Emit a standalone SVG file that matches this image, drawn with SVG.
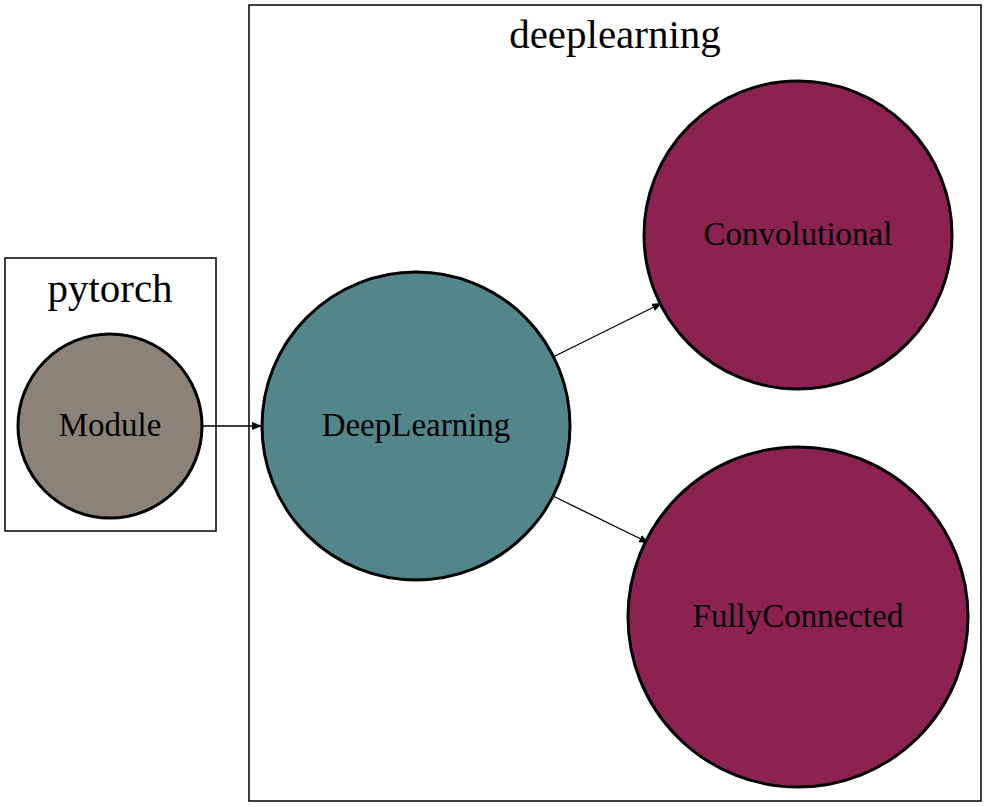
<svg xmlns="http://www.w3.org/2000/svg" width="988" height="807" viewBox="0 0 988 807">
<style>
.cluster{fill:#ffffff;stroke:#000000;stroke-width:1.5}
.node{stroke:#000000;stroke-width:3}
.ntext{font-family:"Liberation Serif",serif;font-size:33px;text-anchor:middle;fill:#000000}
.ctext{font-family:"Liberation Serif",serif;font-size:41px;text-anchor:middle;fill:#000000}
.edge{stroke:#000000;stroke-width:1.3;fill:none}
</style>
<defs>
<marker id="arrow" markerWidth="10" markerHeight="8" refX="10" refY="4" orient="auto" markerUnits="userSpaceOnUse">
<path d="M0,0 L10,4 L0,8 Z" fill="#000000"/>
</marker>
</defs>
<rect width="988" height="807" fill="#ffffff"/>
<g id="cluster_pytorch">
<rect class="cluster" x="5" y="258" width="211" height="273"/>
<text class="ctext" x="110" y="302">pytorch</text>
</g>
<g id="cluster_deeplearning">
<rect class="cluster" x="249" y="5" width="732" height="796"/>
<text class="ctext" x="615" y="48">deeplearning</text>
</g>
<g id="edges">
<line class="edge" x1="202" y1="426" x2="262" y2="426" marker-end="url(#arrow)"/>
<line class="edge" x1="553" y1="357" x2="662" y2="303" marker-end="url(#arrow)"/>
<line class="edge" x1="553" y1="496" x2="649" y2="543" marker-end="url(#arrow)"/>
</g>
<g id="node_Module">
<circle class="node" cx="110" cy="426" r="92" fill="#8b8378"/>
<text class="ntext" x="110" y="436">Module</text>
</g>
<g id="node_DeepLearning">
<circle class="node" cx="416" cy="426" r="154" fill="#53868b"/>
<text class="ntext" x="416" y="436">DeepLearning</text>
</g>
<g id="node_Convolutional">
<circle class="node" cx="798" cy="235" r="154" fill="#8b2252"/>
<text class="ntext" x="798" y="245">Convolutional</text>
</g>
<g id="node_FullyConnected">
<circle class="node" cx="798" cy="617" r="170" fill="#8b2252"/>
<text class="ntext" x="798" y="627">FullyConnected</text>
</g>
</svg>
